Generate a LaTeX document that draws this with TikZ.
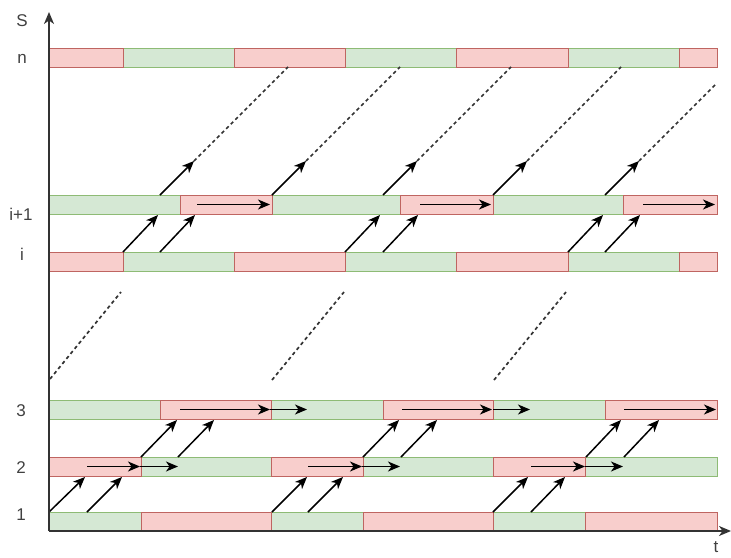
\documentclass[tikz,border=0pt]{standalone}
\usepackage{fontspec}
\setmainfont{Liberation Sans}
\usetikzlibrary{arrows.meta}
\definecolor{pkf}{HTML}{F8CECC}
\definecolor{pkd}{HTML}{B85450}
\definecolor{gnf}{HTML}{D5E8D4}
\definecolor{gnd}{HTML}{82B366}
\definecolor{lblc}{HTML}{404040}
\definecolor{axc}{HTML}{333333}
\begin{document}
\begin{tikzpicture}[x=1pt,y=-1pt,
  pk/.style={draw=pkd!90, fill=pkf, line width=1pt},
  gn/.style={draw=gnd!90, fill=gnf, line width=1pt},
  arr/.style={black, line width=1.5pt, -{Stealth[length=12pt,width=10pt,inset=3.5pt]}},
  dsh/.style={axc, line width=1.7pt, dash pattern=on 3.5pt off 3pt},
  axis/.style={axc, line width=1.4pt, -{Stealth[length=12pt,width=10pt,inset=3.5pt]}},
  lbl/.style={text=lblc, font=\fontsize{17}{19}\selectfont, inner sep=0pt}]
\useasboundingbox (0,0) rectangle (731,557);
% green segments
\foreach \y/\a/\b in {48/123/234,48/345/456,48/568/679,
  252/123/234,252/345/456,252/568/679,
  195/49/180,195/272/400,195/493/623,
  400/49/160,400/271/383,400/493/605,
  457/141/271,457/363/493,457/585/717,
  512/49/141,512/271/363,512/493/585}
  \draw[gn] (\a,\y) rectangle (\b,\y+19);
% pink segments
\foreach \y/\a/\b in {48/49/123,48/234/345,48/456/568,48/679/717,
  252/49/123,252/234/345,252/456/568,252/679/717,
  195/180/272,195/400/493,195/623/717,
  400/160/271,400/383/493,400/605/717,
  457/49/141,457/271/363,457/493/585,
  512/141/271,512/363/493,512/585/717}
  \draw[pk] (\a,\y) rectangle (\b,\y+19);
% row 1 -> row 2
\foreach \a/\b in {49/85,87/122,272/307,308/343,493/528,531/565}
  \draw[arr] (\a,512) -- (\b,477);
% row 2 horizontals
\foreach \a/\b in {87/140,140/178,308/362,362/400,531/585,585/623}
  \draw[arr] (\a,466.5) -- (\b,466.5);
% row 2 -> row 3
\foreach \a/\b in {141/177,178/214,363/399,401/437,586/621,624/659}
  \draw[arr] (\a,457) -- (\b,420);
% row 3 horizontals
\foreach \a/\b in {180/270,270/307,402/492,493/530,624/716}
  \draw[arr] (\a,409.5) -- (\b,409.5);
% row i -> row i+1
\foreach \a/\b in {123/158,160/195,345/380,383/418,568/603,605/640}
  \draw[arr] (\a,252) -- (\b,215);
% row i+1 horizontals
\foreach \a/\b in {197/270,420/491,643/715}
  \draw[arr] (\a,204.5) -- (\b,204.5);
% row i+1 -> row n
\foreach \a in {160,272,383,493}
  {\draw[arr] (\a,195) -- (\a+34,161);
   \draw[dsh] (\a+34,161) -- (\a+128,67);}
\draw[arr] (605,195) -- (639,161);
\draw[dsh] (639,161) -- (717,83);
% dashed between row 3 and row i
\draw[dsh] (50,379) -- (121,292);
\draw[dsh] (272,380) -- (344,292);
\draw[dsh] (494,380) -- (566,292);
% axes
\draw[axis] (49,531) -- (49,12);
\draw[axis] (49,531) -- (731,531);
% labels
\node[lbl] (S) at (22,21) {S};
\node[lbl] (n) at (22,59) {n};
\node[lbl] (ip1) at (21,214) {i+1};
\node[lbl] (i) at (22,254) {i};
\node[lbl] (r3) at (21,411) {3};
\node[lbl] (r2) at (21,468) {2};
\node[lbl] (r1) at (21,515) {1};
\node[lbl] (t) at (716,547) {t};
\end{tikzpicture}
\end{document}
